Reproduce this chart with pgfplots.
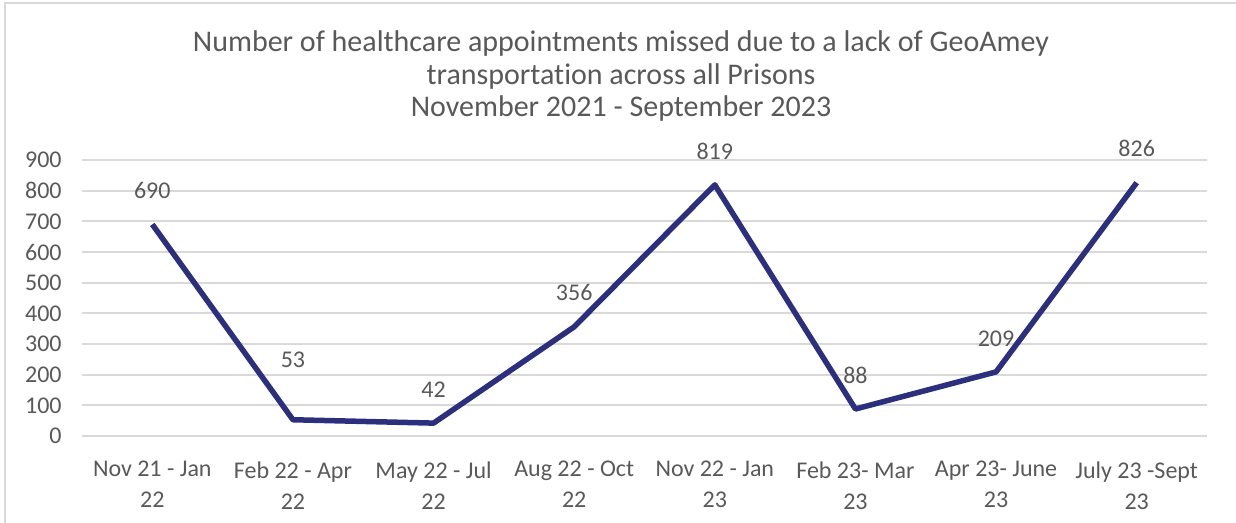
\documentclass[border=0pt]{standalone}
\usepackage{pgfplots}
\pgfplotsset{compat=1.18}
\usepackage{fontspec}
\setmainfont{Carlito}[Ligatures=NoCommon]
\definecolor{txt}{HTML}{595959}
\definecolor{navy}{RGB}{44,46,126}
\definecolor{gridc}{HTML}{D9D9D9}
\definecolor{framec}{HTML}{D9D9D9}
\begin{document}
\begin{tikzpicture}
\useasboundingbox (0,0) rectangle (618bp,261.5bp);
\draw[framec, line width=1bp] (2.5bp,0) -- (2.5bp,260bp) -- (618bp,260bp);
\begin{axis}[
  at={(41bp,43.5bp)}, anchor=south west,
  scale only axis, width=562.5bp, height=138bp,
  xmin=-0.5, xmax=7.5, ymin=0, ymax=900,
  axis line style={draw=none}, tick style={draw=none},
  ytick={0,100,...,900},
  ymajorgrids, grid style={gridc, line width=0.9bp},
  xtick={0,...,7},
  xticklabels={{Nov 21 - Jan\\22},{Feb 22 - Apr\\22},{May 22 - Jul\\22},{Aug 22 - Oct\\22},{Nov 22 - Jan\\23},{Feb 23- Mar\\23},{Apr 23- June\\23},{July 23 -Sept\\23}},
  ticklabel style={font=\fontsize{12bp}{15.5bp}\selectfont, text=txt},
  xticklabel style={align=center, anchor=north, inner sep=0pt, yshift=-12.5bp},
  yticklabel style={anchor=east, inner sep=0pt, xshift=-10bp},
  /pgf/number format/assume math mode=true,
  clip=false,
]
\addplot[navy, line width=2.75bp, line join=round, mark=none,
  nodes near coords,
  visualization depends on={\thisrow{off}\as\off},
  every node near coord/.append style={anchor=south, inner sep=0pt, yshift=\off,
     font=\fontsize{12bp}{14bp}\selectfont, text=txt},
] table {
x y off
0 690 11.5
1 53 25
2 42 11.5
3 356 11.5
4 819 11.5
5 88 11.5
6 209 11.5
7 826 11.5
};
\end{axis}
\node[anchor=base, text=txt, font=\fontsize{15bp}{17bp}\selectfont] at (310.5bp,235.5bp) {Number of healthcare appointments missed due to a lack of GeoAmey};
\node[anchor=base, text=txt, font=\fontsize{15bp}{17bp}\selectfont] at (310.5bp,219.25bp) {transportation across all Prisons};
\node[anchor=base, text=txt, font=\fontsize{15bp}{17bp}\selectfont] at (310.5bp,203bp) {November 2021 - September 2023};
\end{tikzpicture}
\end{document}
